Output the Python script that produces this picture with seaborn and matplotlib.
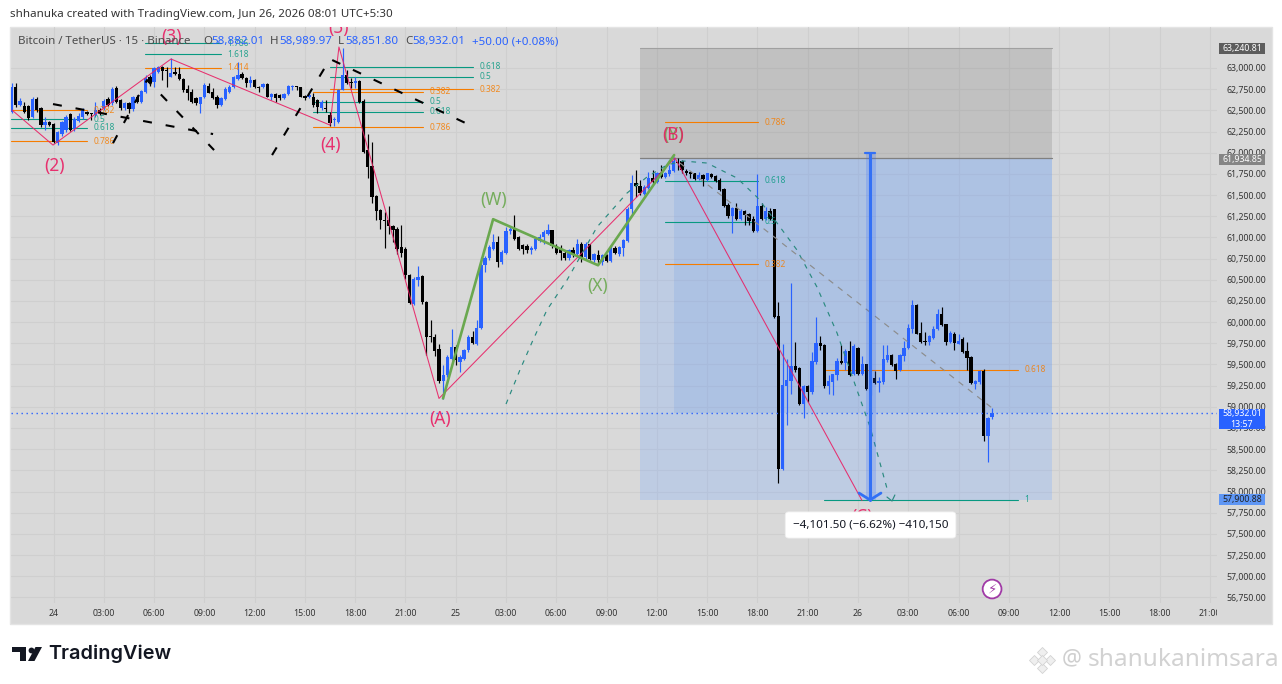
import matplotlib
matplotlib.use("Agg")
import matplotlib.pyplot as plt
import matplotlib.transforms as mtrans
from matplotlib.lines import Line2D
from matplotlib.patches import Polygon, Rectangle
import numpy as np
import pandas as pd
import seaborn as sns

opens = [
    62484, 62771, 62563, 62551, 62551, 62425, 62634, 62523, 62326, 62358,
    62338, 62118, 62220, 62267, 62456, 62279, 62377, 62417, 62484, 62464,
    62444, 62504, 62523, 62630, 62582, 62760, 62622, 62523, 62590, 62511,
    62661, 62602, 62720, 62890, 62838, 62957, 63016, 62976, 62898, 62957,
    62929, 62866, 62748, 62720, 62641, 62574, 62653, 62787, 62720, 62653,
    62563, 62634, 62720, 62771, 62866, 62929, 62878, 62827, 62858, 62771,
    62771, 62811, 62661, 62689, 62681, 62641, 62693, 62779, 62779, 62771,
    62669, 62653, 62661, 62622, 62523, 62523, 62444, 62385, 62366, 62740,
    62917, 62839, 62819, 62846, 62614, 62031, 61842, 61487, 61322, 61203,
    61211, 61136, 61097, 60888, 60865, 60561, 60218, 60502, 60541, 60238,
    59836, 59824, 59687, 59300, 59379, 59568, 59706, 59529, 59568, 59667,
    59824, 59746, 59935, 60671, 60758, 60860, 60947, 60711, 60817, 61073,
    61097, 60999, 60908, 60900, 60849, 60861, 60959, 61006, 61046, 61085,
    60900, 60868, 60821, 60762, 60857, 60801, 60920, 60770, 60920, 60730,
    60789, 60711, 60789, 60723, 60880, 60801, 60880, 60959, 61341, 61637,
    61605, 61511, 61589, 61696, 61656, 61763, 61716, 61743, 61786, 61893,
    61901, 61787, 61775, 61755, 61688, 61736, 61677, 61748, 61724, 61677,
    61570, 61381, 61251, 61350, 61216, 61310, 61275, 61216, 61078, 61369,
    61216, 61310, 61330, 60069, 58261, 59247, 59305, 59478, 59462, 59029,
    59242, 59175, 59529, 59754, 59726, 59246, 59293, 59372, 59541, 59518,
    59659, 59392, 59699, 59392, 59502, 59155, 59340, 59281, 59293, 59549,
    59608, 59502, 59431, 59596, 59699, 59923, 60199, 59872, 59774, 59766,
    59817, 59923, 60093, 59975, 59766, 59864, 59746, 59797, 59655, 59588,
    59273, 59293, 59419, 58651, 58882,
]
highs = [
    62819, 62827, 62641, 62602, 62563, 62661, 62661, 62543, 62425, 62378,
    62346, 62255, 62370, 62444, 62464, 62425, 62464, 62523, 62496, 62470,
    62602, 62523, 62630, 62653, 62771, 62787, 62630, 62602, 62602, 62669,
    62681, 62740, 62917, 62917, 63016, 63024, 63024, 63016, 63114, 63016,
    63016, 62878, 62799, 62748, 62661, 62661, 62819, 62819, 62760, 62681,
    62661, 62771, 62799, 62905, 63075, 62957, 62898, 62905, 62870, 62787,
    62827, 62819, 62708, 62701, 62693, 62708, 62799, 62799, 62787, 62779,
    62681, 62701, 62708, 62630, 62622, 62622, 62484, 62425, 62748, 63232,
    62976, 62878, 62890, 62858, 62630, 62220, 62129, 61499, 61341, 61302,
    61369, 61144, 61125, 61144, 60888, 60573, 60534, 60660, 60553, 60250,
    60029, 59864, 59746, 59490, 59608, 59915, 59726, 59608, 59687, 59844,
    59891, 60021, 60770, 60778, 60908, 61046, 61014, 60849, 61125, 61125,
    61262, 61014, 60928, 60928, 60896, 61006, 61046, 61085, 61164, 61093,
    60928, 60908, 60849, 60868, 60888, 60987, 60947, 60947, 60928, 60817,
    60849, 60809, 60809, 60896, 60896, 60896, 60987, 61361, 61735, 61794,
    61676, 61617, 61775, 61794, 61775, 61853, 61775, 61853, 61952, 61933,
    61913, 61803, 61787, 61763, 61775, 61748, 61763, 61763, 61736, 61696,
    61578, 61401, 61361, 61409, 61330, 61322, 61283, 61251, 61748, 61401,
    61354, 61342, 61338, 60238, 59746, 59569, 60467, 59766, 59470, 59254,
    59254, 59648, 60061, 59833, 59738, 59372, 59391, 59581, 59726, 59687,
    59778, 59746, 59707, 59596, 59510, 59352, 59419, 59352, 59726, 59726,
    59628, 59518, 59628, 59778, 59982, 60258, 60211, 59998, 59884, 59844,
    59951, 60152, 60180, 59982, 59892, 59884, 59856, 59825, 59766, 59596,
    59320, 59431, 59451, 58879, 58990,
]
lows = [
    62464, 62543, 62551, 62464, 62385, 62405, 62484, 62307, 62267, 62318,
    62118, 62090, 62200, 62247, 62259, 62259, 62366, 62393, 62444, 62385,
    62425, 62444, 62504, 62551, 62563, 62582, 62504, 62504, 62472, 62496,
    62582, 62590, 62701, 62787, 62771, 62937, 62858, 62771, 62890, 62917,
    62858, 62720, 62622, 62590, 62563, 62464, 62641, 62701, 62630, 62523,
    62551, 62622, 62701, 62760, 62858, 62866, 62771, 62771, 62760, 62720,
    62760, 62653, 62622, 62602, 62622, 62630, 62681, 62740, 62740, 62653,
    62622, 62641, 62543, 62464, 62504, 62484, 62314, 62314, 62354, 62740,
    62811, 62760, 62760, 62582, 62000, 61696, 61408, 61203, 61097, 60880,
    61046, 60947, 60809, 60770, 60514, 60218, 60199, 60423, 60218, 59608,
    59765, 59600, 59281, 59096, 59352, 59549, 59490, 59411, 59549, 59647,
    59738, 59726, 59923, 60593, 60730, 60849, 60652, 60691, 60801, 61046,
    60967, 60857, 60801, 60817, 60809, 60849, 60947, 60928, 61026, 60880,
    60801, 60730, 60730, 60730, 60770, 60770, 60711, 60730, 60730, 60711,
    60691, 60672, 60711, 60711, 60801, 60778, 60778, 60947, 61282, 61479,
    61499, 61499, 61566, 61645, 61637, 61700, 61696, 61723, 61775, 61795,
    61755, 61736, 61696, 61677, 61677, 61606, 61669, 61696, 61657, 61550,
    61354, 61235, 61054, 61204, 61204, 61145, 61145, 61066, 61066, 61204,
    61204, 61204, 60053, 58099, 58249, 58781, 59155, 59411, 59017, 58871,
    59057, 59155, 59510, 59675, 59226, 59147, 59135, 59321, 59502, 59431,
    59360, 59372, 59372, 59372, 59202, 59135, 59265, 59175, 59273, 59529,
    59478, 59328, 59423, 59541, 59687, 59872, 59856, 59754, 59726, 59726,
    59805, 59912, 59951, 59726, 59754, 59667, 59738, 59636, 59431, 59273,
    59214, 59273, 58595, 58347, 58851,
]
closes = [
    62771, 62563, 62610, 62484, 62405, 62634, 62504, 62326, 62366, 62326,
    62129, 62240, 62358, 62425, 62267, 62397, 62437, 62504, 62456, 62456,
    62504, 62464, 62614, 62563, 62748, 62602, 62523, 62582, 62511, 62653,
    62602, 62732, 62878, 62819, 62996, 63008, 62968, 62968, 62937, 62929,
    62866, 62740, 62701, 62602, 62582, 62653, 62799, 62708, 62641, 62563,
    62641, 62748, 62771, 62890, 62917, 62878, 62819, 62858, 62771, 62760,
    62811, 62661, 62693, 62641, 62641, 62693, 62787, 62787, 62771, 62661,
    62641, 62681, 62563, 62535, 62602, 62511, 62354, 62393, 62740, 62917,
    62827, 62819, 62846, 62602, 62011, 61834, 61479, 61314, 61203, 61195,
    61136, 61085, 60868, 60817, 60553, 60226, 60514, 60534, 60238, 59824,
    59824, 59659, 59304, 59379, 59588, 59706, 59549, 59588, 59667, 59824,
    59758, 59935, 60671, 60758, 60888, 60947, 60711, 60829, 61073, 61097,
    60979, 60869, 60869, 60849, 60880, 60979, 61006, 61058, 61085, 60896,
    60817, 60817, 60758, 60849, 60801, 60920, 60762, 60928, 60750, 60801,
    60730, 60789, 60723, 60880, 60817, 60888, 60967, 61341, 61637, 61605,
    61519, 61597, 61696, 61656, 61755, 61716, 61755, 61794, 61905, 61881,
    61795, 61763, 61748, 61688, 61736, 61684, 61755, 61716, 61665, 61558,
    61369, 61251, 61342, 61216, 61310, 61259, 61196, 61078, 61369, 61216,
    61314, 61223, 60061, 58261, 59254, 59313, 59478, 59439, 59029, 59242,
    59175, 59541, 59754, 59715, 59242, 59305, 59384, 59541, 59518, 59659,
    59372, 59715, 59392, 59510, 59214, 59332, 59281, 59305, 59561, 59608,
    59490, 59423, 59608, 59699, 59935, 60199, 59864, 59766, 59766, 59833,
    59923, 60093, 59963, 59766, 59872, 59754, 59774, 59648, 59581, 59281,
    59301, 59419, 58651, 58867, 58932,
]

# hours counted from Jun 24 00:00
first_bar_hour = -2.5
bar_hours_step = 0.25

impulse_hours = [-2.48, -0.03, 7.01, 16.5, 17.03, 23.0, 37.08, 48.24]
impulse_prices = [62504, 62090, 63106, 62326, 63248, 59099, 61936, 57894]
wxy_hours = [23.24, 26.23, 32.49, 37.03]
wxy_prices = [59099, 61215, 60671, 61972]

projection_a_hours = [-0.03, 9.52]
projection_a_prices = [62574, 62220]
projection_b_hours = [3.55, 5.58, 9.58]
projection_b_prices = [62113, 62858, 62031]
projection_c_hours = [13.04, 16.5, 24.97]
projection_c_prices = [61972, 63106, 62314]

arc_hours = [27.0, 27.83, 28.61, 29.44, 30.64, 32.43, 34.22, 35.41, 36.6, 37.56,
             38.99, 40.78, 41.97, 43.17, 44.36, 45.55, 46.75, 47.94, 48.72, 49.79]
arc_prices = [59033, 59435, 59789, 60143, 60497, 61123, 61524, 61713, 61855, 61902,
              61878, 61701, 61477, 61170, 60851, 60415, 59871, 59198, 58762, 57994]
arc_tip_hours = [49.73, 50.03, 50.2]
arc_tip_prices = [57935, 57888, 57959]
fade_hours = [37.38, 56.0]
fade_prices = [61878, 58986]

fib_starts = [-2.54, -2.54, -2.54, -2.54, 5.46, 5.46, 5.46, 15.48, 15.48, 15.48, 15.48,
              16.5, 16.5, 16.5, 36.49, 36.49, 36.49, 36.49, 45.97, 45.97]
fib_ends = [2.0, 2.0, 2.0, 2.0, 9.99, 9.99, 9.99, 22.05, 22.05, 22.05, 22.05,
            25.03, 25.03, 25.03, 42.03, 42.03, 42.03, 42.03, 57.55, 57.55]
fib_levels = [62504, 62392, 62292, 62138, 63295, 63165, 63000, 62717, 62599, 62481, 62303,
              63012, 62894, 62752, 62362, 61666, 61182, 60686, 59435, 57900]
fib_ratios = ["0.382", "0.5", "0.618", "0.786", "1.786", "1.618", "1.414", "0.382", "0.5", "0.618", "0.786",
              "0.618", "0.5", "0.382", "0.786", "0.618", "0.5", "0.382", "0.618", "1"]
fib_kinds = ["o", "t", "t", "o", "t", "t", "o", "o", "t", "t", "o",
             "t", "t", "o", "o", "t", "t", "o", "o", "t"]

wave_labels = ["(2)", "(3)", "(4)", "(5)", "(A)", "(C)", "(Y)", "(B)", "(W)", "(X)"]
wave_label_hours = [0.03, 7.07, 16.5, 17.03, 23.06, 48.24, 36.96, 36.96, 26.23, 32.49]
wave_label_prices = [61843, 63366, 62091, 63472, 58856, 57699, 62209, 62209, 61442, 60426]
wave_label_kinds = ["p", "p", "p", "p", "p", "p", "g", "p", "g", "g"]

position_left = 35.0
position_split = 37.0
position_right = 59.6
stop_price = 63240.81
entry_price = 61934.85
target_price = 57900.88
last_price = 58932.01
measure_top = 62002.38
measure_bottom = 57900.88
measure_hour = 48.72

price_ticks = list(range(56750, 63001, 250))
time_ticks = list(range(0, 70, 3))
time_tick_labels = ["24", "03:00", "06:00", "09:00", "12:00", "15:00", "18:00", "21:00",
                    "25", "03:00", "06:00", "09:00", "12:00", "15:00", "18:00", "21:00",
                    "26", "03:00", "06:00", "09:00", "12:00", "15:00", "18:00", "21:00"]

W, H = 1282, 684
BLUE = "#2962ff"
ORANGE = "#f57c00"
TEAL = "#089981"
PINK = "#e91e63"
GREEN = "#6aa84f"
GRID = "#cfcfcf"
BG = "#d9d9d9"

sns.set_theme(style="white", font="Noto Sans")
fig = plt.figure(figsize=(W / 100, H / 100), dpi=100, facecolor="white")


def fx(px):
    return px / W


def fy(py):
    return 1 - py / H


fig.add_artist(Rectangle((fx(10), fy(624)), 1262 / W, 597 / H, transform=fig.transFigure,
                         fc=BG, ec="#e4e4e4", lw=1, zorder=-5))

ax = fig.add_axes([fx(11), fy(603), 1206 / W, 576 / H], facecolor="none")
ax.set_xlim(-2.536, 69.42)
ax.set_ylim(56684, 63484)
for side in ax.spines.values():
    side.set_visible(False)

ax.set_xticks(time_ticks)
ax.set_xticklabels(time_tick_labels)
ax.set_yticks(price_ticks)
ax.set_yticklabels([f"{p:,.2f}" for p in price_ticks])
ax.yaxis.tick_right()
ax.tick_params(axis="x", length=0, pad=4, labelsize=6.3, labelcolor="#333333")
ax.tick_params(axis="y", length=0, pad=6.5, labelsize=6.3, labelcolor="#333333")
ax.grid(True, color=GRID, lw=0.8)
ax.set_axisbelow(True)
for lab in ax.get_xticklabels():
    lab.set_clip_box(mtrans.Bbox([[0, 0], [1217, H]]))
    lab.set_clip_on(True)

# trade boxes
ax.fill_between([position_left, position_right], entry_price, stop_price,
                color=(110 / 255, 110 / 255, 110 / 255), alpha=0.22, lw=0, zorder=1)
ax.fill_between([position_left, position_right], target_price, entry_price,
                color=(120 / 255, 170 / 255, 1), alpha=0.27, lw=0, zorder=1)
ax.fill_between([position_split, position_right], last_price, entry_price,
                color=(100 / 255, 150 / 255, 230 / 255), alpha=0.18, lw=0, zorder=1)
ax.plot([position_left, position_right], [stop_price, stop_price], color="#a0a0a0", lw=0.8, zorder=1)
ax.plot([position_left, position_right], [entry_price, entry_price], color="#808080", lw=0.9, zorder=1)

# candles
bar_x = first_bar_hour + np.arange(len(opens)) * bar_hours_step
candles = pd.DataFrame({"hour": bar_x, "open": opens, "high": highs, "low": lows, "close": closes})
candles["colour"] = np.where(candles["close"] >= candles["open"], BLUE, "black")
ax.vlines(candles["hour"], candles["low"], candles["high"], colors=candles["colour"], lw=0.85, zorder=3)
ax.bar(candles["hour"], (candles["close"] - candles["open"]).abs().clip(lower=14),
       bottom=candles[["open", "close"]].min(axis=1), width=0.195, color=candles["colour"], lw=0, zorder=3)

ax.plot([-2.536, 69.42], [last_price, last_price], color=BLUE, lw=1.0, linestyle=(0, (1, 2.6)), zorder=4)


def path(hours, prices, **kw):
    frame = pd.DataFrame({"hour": hours, "price": prices})
    sns.lineplot(data=frame, x="hour", y="price", sort=False, estimator=None, errorbar=None,
                 legend=False, ax=ax, **kw)


# fib levels
for start, end, level, ratio, kind in zip(fib_starts, fib_ends, fib_levels, fib_ratios, fib_kinds):
    colour = ORANGE if kind == "o" else TEAL
    path([start, end], [level, level], color=colour, lw=0.8, zorder=2)
    ax.text(end + 0.38, level, ratio, color=colour, fontsize=6, va="center", ha="left",
            alpha=0.85, zorder=4, clip_on=True)

# wave counts
path(impulse_hours, impulse_prices, color=PINK, lw=0.75, alpha=0.9, zorder=5)
path(wxy_hours, wxy_prices, color=GREEN, lw=1.9, zorder=5)
dash_black = (0, (4.3, 6.7))
path(projection_a_hours, projection_a_prices, color="black", lw=1.5, linestyle=dash_black, zorder=5)
path(projection_b_hours, projection_b_prices, color="black", lw=1.5, linestyle=dash_black, zorder=5)
path(projection_c_hours, projection_c_prices, color="black", lw=1.5, linestyle=dash_black, zorder=5)
path(arc_hours, arc_prices, color="#2b8a80", lw=0.85, linestyle=(0, (4, 5)), zorder=5)
path(arc_tip_hours, arc_tip_prices, color="#2b8a80", lw=0.85, zorder=5)
path(fade_hours, fade_prices, color="#8c8c8c", lw=0.85, linestyle=(0, (5, 5)), zorder=5)

for label, hour, price, kind in zip(wave_labels, wave_label_hours, wave_label_prices, wave_label_kinds):
    ax.text(hour, price, label, color=PINK if kind == "p" else GREEN, fontsize=12.5, ha="center", va="center",
            alpha=0.9, zorder=6, clip_on=True)

# measure arrow
ax.fill_between([48.48, 49.07], measure_bottom, measure_top, color=BLUE, alpha=0.2, lw=0, zorder=6)
path([measure_hour, measure_hour], [measure_top, measure_bottom], color="#3370f5", lw=2.2, zorder=7)
path([48.42, 49.02], [measure_top, measure_top], color="#3370f5", lw=1.6, zorder=7)
path([48.06, measure_hour, 49.37], [57982, measure_bottom, 57982], color="#3370f5", lw=2.0, zorder=7)
ax.text(48.75, 57605, "\u22124,101.50 (\u22126.62%) \u2212410,150", fontsize=8.4, color="#131722",
        ha="center", va="center", zorder=8,
        bbox=dict(boxstyle="round,pad=0.65,rounding_size=0.3", fc="white", ec="#eeeeee", lw=0.6))

# lightning badge
ax.text(56.0, 56849, "\u26a1", family="DejaVu Sans", fontsize=9.5, color="#a03aa6", ha="center", va="center", zorder=9,
        bbox=dict(boxstyle="circle,pad=0.22", fc="white", ec="#a03aa6", lw=1.3))

# price badges
yaxis_tf = ax.get_yaxis_transform()
badge_tops = [63300, 61990, 58974, 57975]
badge_bottoms = [63170, 61860, 58738, 57845]
badge_fills = ["#5d5d5d", "#858585", BLUE, "#5e96f5"]
badge_text = ["63,240.81", "61,934.85", "58,932.01\n13:57", "57,900.88"]
badge_ink = ["white", "white", "white", "#222222"]
for top, bottom, fill, text, ink in zip(badge_tops, badge_bottoms, badge_fills, badge_text, badge_ink):
    ax.add_patch(Rectangle((1.0017, bottom), 0.0381, top - bottom, transform=yaxis_tf, fc=fill, ec="none",
                           clip_on=False, zorder=10))
    ax.text(1.0207, (top + bottom) / 2, text, transform=yaxis_tf, color=ink, fontsize=6.3, ha="center", va="center",
            clip_on=False, zorder=11, linespacing=1.25)

ax.set_xlabel("")
ax.set_ylabel("")

# top lines
fig.text(fx(10), fy(15), "shhanuka created with TradingView.com, Jun 26, 2026 08:01 UTC+5:30",
         fontsize=8.33, color="#333333", va="center")
header_bits = [(18, "Bitcoin / TetherUS \u00b7 15 \u00b7 Binance", "#4a4a4a"), (203, "O", "#4a4a4a"),
               (211, "58,882.01", BLUE), (270, "H", "#4a4a4a"), (279, "58,989.97", BLUE),
               (338, "L", "#4a4a4a"), (345, "58,851.80", BLUE), (405, "C", "#4a4a4a"),
               (412, "58,932.01", BLUE), (472, "+50.00 (+0.08%)", BLUE)]
for px, text, colour in header_bits:
    fig.text(fx(px), fy(41.5), text, fontsize=8.3, color=colour, va="center", zorder=20)

# footer logo and watermark
ink = "#131722"
fig.add_artist(Polygon([(fx(12), fy(647)), (fx(26), fy(647)), (fx(26), fy(661)), (fx(20), fy(661)),
                        (fx(20), fy(652)), (fx(12), fy(652))], closed=True, transform=fig.transFigure, fc=ink, ec="none"))
fig.add_artist(Line2D([fx(30.5)], [fy(649.5)], marker="o", ms=4.2, color=ink, mew=0, transform=fig.transFigure))
fig.add_artist(Polygon([(fx(35.5), fy(647)), (fx(42), fy(647)), (fx(34.5), fy(661)), (fx(28), fy(661))],
                       closed=True, transform=fig.transFigure, fc=ink, ec="none"))
fig.text(fx(48), fy(654), "TradingView", fontsize=14.3, fontweight="semibold", color=ink, va="center",
         family="Inter")

for px, py, size in [(1042, 652, 5), (1034, 660, 5), (1050, 660, 5), (1042, 668, 5), (1042, 660, 5)]:
    fig.add_artist(Line2D([fx(px)], [fy(py)], marker="D", ms=size, mfc="#efefef", mec="#d2d2d2", mew=0.6,
                          transform=fig.transFigure))
fig.text(fx(1062), fy(659), "@", fontsize=16, color="#cfcfcf", va="center")
fig.text(fx(1088), fy(660), "shanukanimsara", fontsize=17.6, color="#d2d2d2", va="center")

fig.savefig("out.png", dpi=100, facecolor="white")
